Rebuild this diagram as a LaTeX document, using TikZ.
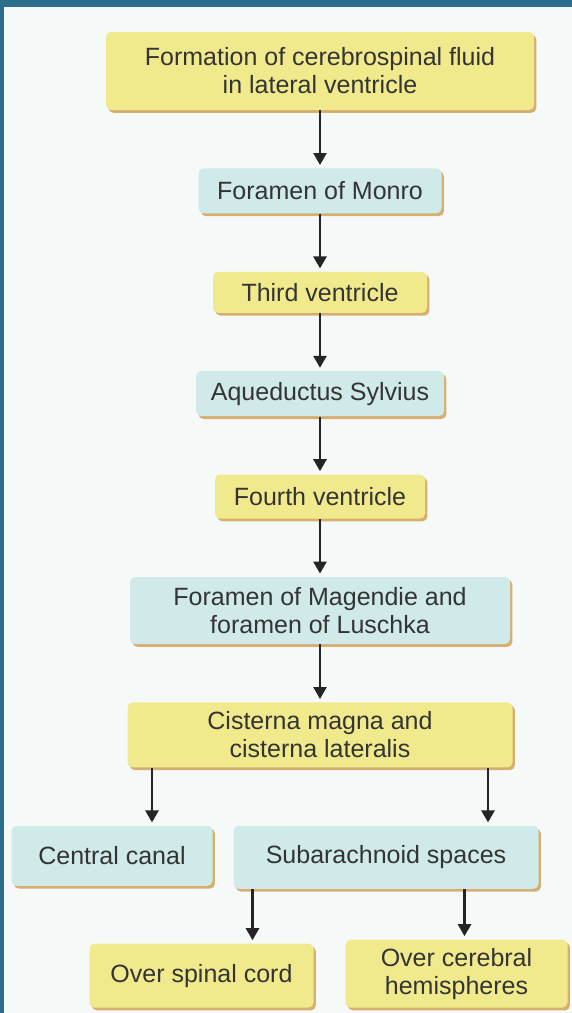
\documentclass[tikz,border=0pt]{standalone}
\usepackage{fontspec}
\setmainfont{Liberation Sans}
\usetikzlibrary{arrows.meta, positioning, shadows}
\definecolor{yellow1}{RGB}{241, 234, 141}
\definecolor{blue1}{RGB}{207, 234, 233}
\definecolor{tan1}{RGB}{212, 166, 98}
\definecolor{teal1}{RGB}{44, 110, 140}
\definecolor{paper1}{RGB}{245, 250, 248}
\definecolor{ink1}{RGB}{52, 52, 52}

\begin{document}
\begin{tikzpicture}[node distance=28.8pt,
    box/.style={rectangle, rounded corners=2.5pt, align=center, inner sep=0pt, text=ink1,
        font=\fontsize{12.5pt}{14pt}\selectfont,
        drop shadow={shadow xshift=1.2pt, shadow yshift=-1.4pt, fill=tan1, opacity=0.9}},
    yellowbox/.style={box, fill=yellow1},
    bluebox/.style={box, fill=blue1},
    arrow/.style={-{Triangle[length=6pt, width=6.5pt]}, line width=1.3pt, draw=ink1!70!black, shorten >=1.5pt}]
    \fill[paper1] (0,0) rectangle (286pt,-506.5pt);
    \fill[teal1] (0,0) rectangle (286pt,-3.5pt);
    \fill[teal1] (0,0) rectangle (2pt,-506.5pt);
    \useasboundingbox (0,0) rectangle (286pt,-506.5pt);
    \node[yellowbox, minimum width=214pt, minimum height=39pt] (csf) at (160pt,-35.5pt) {Formation of cerebrospinal fluid\\in lateral ventricle};
    \node[bluebox, below=of csf, minimum width=121.5pt, minimum height=22.5pt] (monro) {Foramen of Monro};
    \node[yellowbox, below=of monro, minimum width=107pt, minimum height=20.5pt] (third) {Third ventricle};
    \node[bluebox, below=of third, minimum width=124pt, minimum height=22.5pt] (aqueduct) {Aqueductus Sylvius};
    \node[yellowbox, below=of aqueduct, minimum width=105pt, minimum height=22pt] (fourth) {Fourth ventricle};
    \node[bluebox, below=of fourth, minimum width=190pt, minimum height=33.5pt] (foramina) {Foramen of Magendie and\\foramen of Luschka};
    \node[yellowbox, below=of foramina, minimum width=192.5pt, minimum height=32.5pt] (cisterna) {Cisterna magna and\\cisterna lateralis};
    \node[bluebox, below=of cisterna, xshift=-104pt, minimum width=100.5pt, minimum height=30pt] (canal) {Central canal};
    \node[bluebox, below=of cisterna, xshift=33pt, minimum width=152.5pt, minimum height=31.5pt] (subarach) {Subarachnoid spaces};
    \node[yellowbox, below=27pt of subarach, xshift=-92.25pt, minimum width=112pt, minimum height=32pt] (spinal) {Over spinal cord};
    \node[yellowbox, below=25pt of subarach, xshift=35.25pt, minimum width=111pt, minimum height=34pt] (cerebral) {Over cerebral\\hemispheres};
    \draw[arrow] (csf.south) -- (monro.north);
    \draw[arrow] (monro.south) -- (third.north);
    \draw[arrow] (third.south) -- (aqueduct.north);
    \draw[arrow] (aqueduct.south) -- (fourth.north);
    \draw[arrow] (fourth.south) -- (foramina.north);
    \draw[arrow] (foramina.south) -- (cisterna.north);
    \draw[arrow] ([xshift=-84pt]cisterna.south) -- ([xshift=-84pt]cisterna.south |- canal.north);
    \draw[arrow] ([xshift=84pt]cisterna.south) -- ([xshift=84pt]cisterna.south |- subarach.north);
    \draw[arrow] ([xshift=-66.75pt]subarach.south) -- ([xshift=-66.75pt]subarach.south |- spinal.north);
    \draw[arrow] ([xshift=39.25pt]subarach.south) -- ([xshift=39.25pt]subarach.south |- cerebral.north);
\end{tikzpicture}
\end{document}
